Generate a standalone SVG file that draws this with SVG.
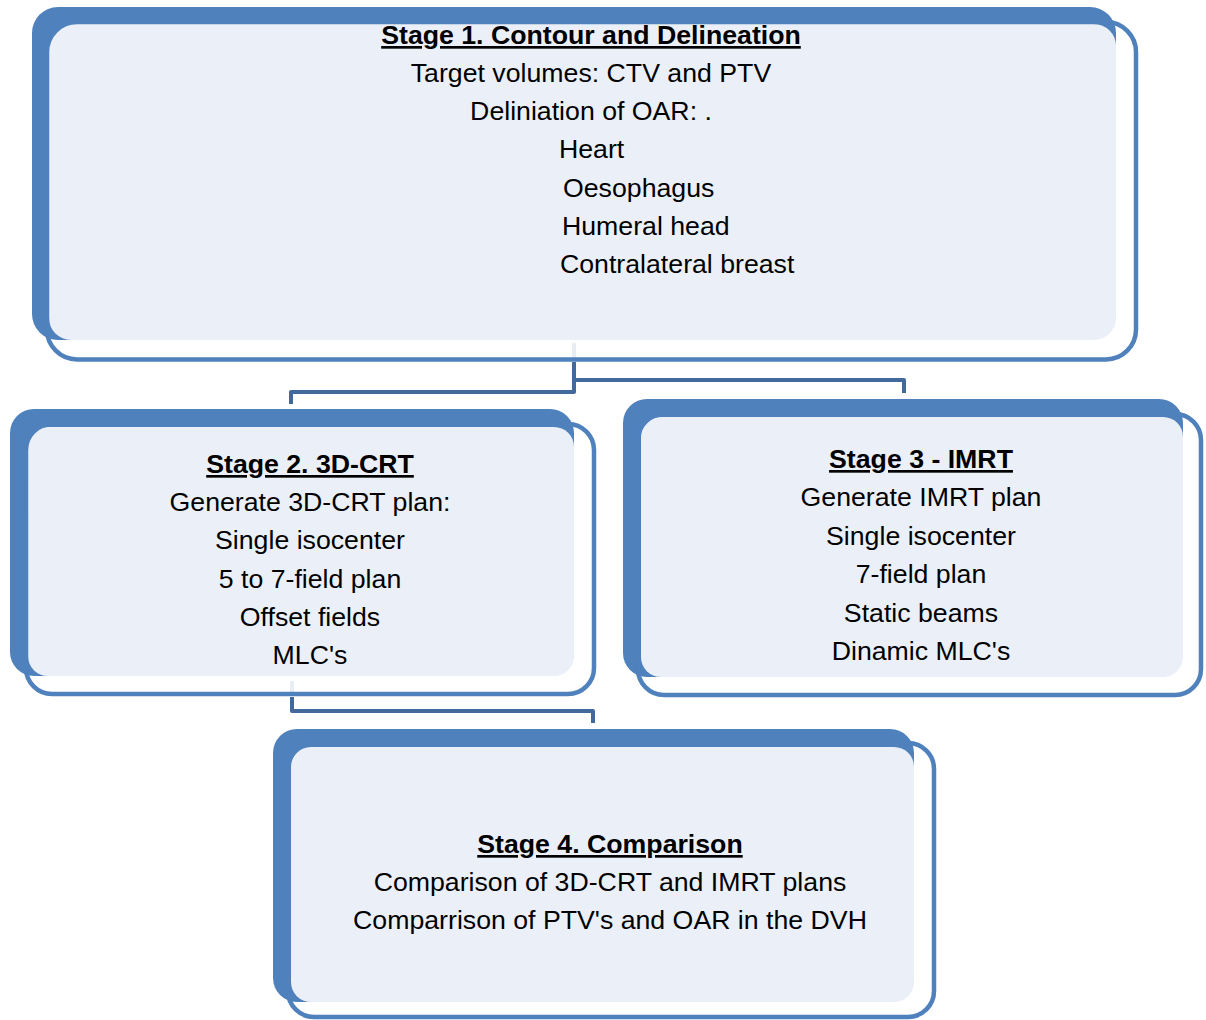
<svg xmlns="http://www.w3.org/2000/svg" width="1206" height="1020" viewBox="0 0 1206 1020">
<style>
.back{fill:#4F81BD}
.fill{fill:#EBF0F8}
.line{fill:none;stroke:#4F81BD;stroke-width:4.5}
.conn{fill:none;stroke:#41699C;stroke-width:4;stroke-linejoin:round}
.ghost{fill:none;stroke:#E8ECF3;stroke-width:4}
text{font-family:"Liberation Sans",Arial,sans-serif;font-size:26.7px;fill:#000}
.c{text-anchor:middle}
.t{font-weight:bold;text-decoration:underline}
</style>
<rect width="1206" height="1020" fill="#fff"/>
<g id="connectors">
<line class="ghost" x1="574" y1="343" x2="574" y2="358"/>
<path class="conn" d="M574,362 V380 H904 V393"/>
<path class="conn" d="M574,362 V392 H291 V404"/>
<line class="ghost" x1="292" y1="681" x2="292" y2="693"/>
<path class="conn" d="M292,697 V711 H593 V723"/>
</g>
<g id="stage1">
<rect class="back" x="32" y="7" width="1084" height="333" rx="26"/>
<rect class="fill" x="49" y="24" width="1067" height="316" rx="22"/>
<rect class="line" x="47" y="22" width="1089" height="337.5" rx="30"/>
<text class="c t" x="591" y="44">Stage 1. Contour and Delineation</text>
<text class="c" x="591" y="82">Target volumes: CTV and PTV</text>
<text class="c" x="591" y="120">Deliniation of OAR: .</text>
<text x="559" y="158">Heart</text>
<text x="563" y="197">Oesophagus</text>
<text x="562" y="235">Humeral head</text>
<text x="560" y="273">Contralateral breast</text>
</g>
<g id="stage2">
<rect class="back" x="10" y="409" width="564" height="267" rx="24"/>
<rect class="fill" x="28" y="427" width="546" height="249" rx="20"/>
<rect class="line" x="26" y="424" width="568" height="270" rx="26"/>
<text class="c t" x="310" y="473">Stage 2. 3D-CRT</text>
<text class="c" x="310" y="511">Generate 3D-CRT plan:</text>
<text class="c" x="310" y="549">Single isocenter</text>
<text class="c" x="310" y="588">5 to 7-field plan</text>
<text class="c" x="310" y="626">Offset fields</text>
<text class="c" x="310" y="664">MLC's</text>
</g>
<g id="stage3">
<rect class="back" x="623" y="399" width="560" height="278" rx="24"/>
<rect class="fill" x="641" y="417" width="542" height="260" rx="20"/>
<rect class="line" x="638" y="414" width="563" height="281" rx="26"/>
<text class="c t" x="921" y="468">Stage 3 - IMRT</text>
<text class="c" x="921" y="506">Generate IMRT plan</text>
<text class="c" x="921" y="545">Single isocenter</text>
<text class="c" x="921" y="583">7-field plan</text>
<text class="c" x="921" y="622">Static beams</text>
<text class="c" x="921" y="660">Dinamic MLC's</text>
</g>
<g id="stage4">
<rect class="back" x="273" y="729" width="641" height="273" rx="24"/>
<rect class="fill" x="291" y="747" width="623" height="255" rx="20"/>
<rect class="line" x="288" y="743" width="646" height="274" rx="26"/>
<text class="c t" x="610" y="853">Stage 4. Comparison</text>
<text class="c" x="610" y="891">Comparison of 3D-CRT and IMRT plans</text>
<text class="c" x="610" y="929">Comparrison of PTV's and OAR in the DVH</text>
</g>
</svg>
